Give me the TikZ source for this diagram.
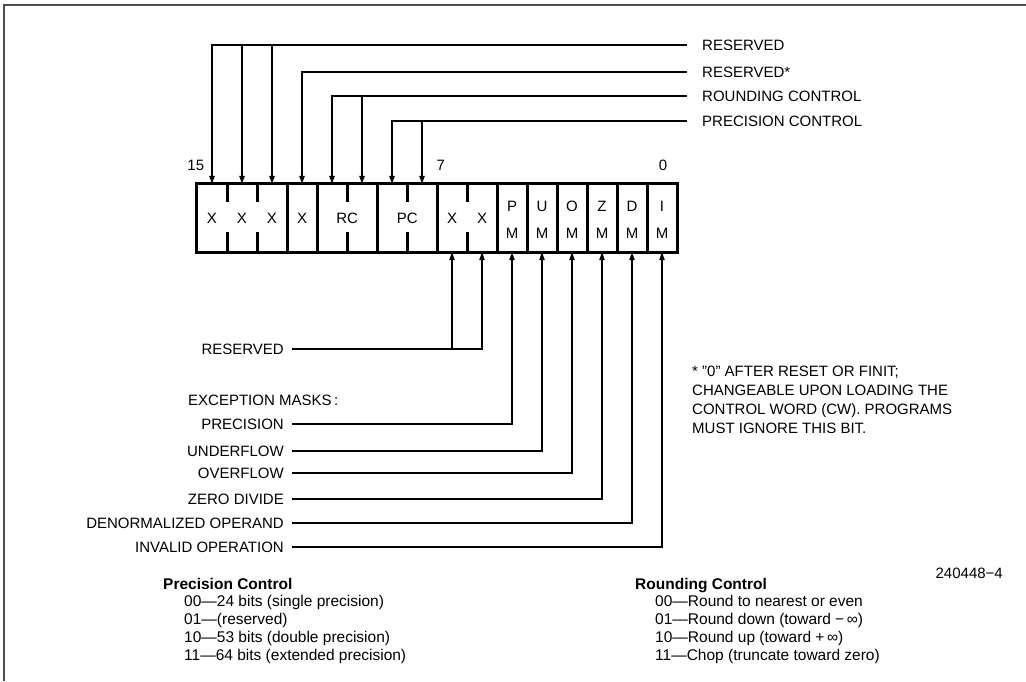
\documentclass[tikz,border=0pt]{standalone}
\usepackage{fontspec}
\setmainfont{Liberation Sans}
\usetikzlibrary{arrows.meta,calc}

\tikzset{
    lbl/.style={font=\fontsize{15}{17}\selectfont, inner sep=0pt, text height=10.7pt, text depth=0pt},
    bitcell/.style={minimum width=30pt, minimum height=68pt, inner sep=0pt},
    wire/.style={line width=1.1pt},
    tip/.style={wire, -{Triangle[length=8pt,width=5.5pt]}},
    reg/.style={line width=3pt},
    note/.style={font=\fontsize{15}{19}\selectfont, inner sep=0pt, align=left, anchor=north west},
    legend/.style={font=\fontsize{15.5}{17.7}\selectfont, inner sep=0pt, align=left, anchor=north west},
    legendhead/.style={lbl, font=\fontsize{15.5}{18}\selectfont\bfseries, anchor=west}
}

\begin{document}
\begin{tikzpicture}[x=1pt,y=-1pt]

        \useasboundingbox (0,0) rectangle (1026,681);
        \draw [line width=2pt, black!70] (4,681) -- (4,5) -- (1026,5);

        \foreach \b in {0,...,15}
            \node (bit\b) [bitcell] at ({212+(15-\b)*30},218) {};

        \draw [reg] (bit15.north west) rectangle (bit0.south east);
        \foreach \b in {13,12,10,8,6,5,4,3,2,1}
            \draw [reg] (bit\b.north east) -- (bit\b.south east);
        \foreach \b in {15,14,11,9,7} {
            \draw [reg] (bit\b.north east) -- ++(0,18);
            \draw [reg] (bit\b.south east) -- ++(0,-20);
        }

        \foreach \b in {15,14,13,12,7,6}
            \node [lbl] at (bit\b) {X};
        \node [lbl] at (bit11.east) {RC};
        \node [lbl] at (bit9.east) {PC};
        \foreach \b/\t in {5/P,4/U,3/O,2/Z,1/D,0/I} {
            \node [lbl] at ($(bit\b)+(0,-12)$) {\t};
            \node [lbl] at ($(bit\b)+(0,15)$) {M};
        }

        \node (n15) [lbl] at ($(bit15.north west)+(-1,-19)$) {15};
        \node (n7) [lbl] at ($(bit7.north west)+(4,-19)$) {7};
        \node (n0) [lbl] at ($(bit0.north)+(1,-19)$) {0};

        \node (rsvA) [lbl, anchor=west] at (702,45) {RESERVED};
        \node (rsvB) [lbl, anchor=west] at (702,72) {RESERVED*};
        \node (rctl) [lbl, anchor=west] at (702,96) {ROUNDING CONTROL};
        \node (pctl) [lbl, anchor=west] at (702,121) {PRECISION CONTROL};

        \draw [tip, shorten <=15pt] (rsvA.west) -| (bit15.north);
        \draw [tip] (bit14.north |- rsvA.west) -- (bit14.north);
        \draw [tip] (bit13.north |- rsvA.west) -- (bit13.north);
        \draw [tip, shorten <=15pt] (rsvB.west) -| (bit12.north);
        \draw [tip, shorten <=15pt] (rctl.west) -| (bit11.north);
        \draw [tip] (bit10.north |- rctl.west) -- (bit10.north);
        \draw [tip, shorten <=15pt] (pctl.west) -| (bit9.north);
        \draw [tip] (bit8.north |- pctl.west) -- (bit8.north);

        \node (rsvC) [lbl, anchor=east] at (284,349) {RESERVED};
        \node (xmask) [lbl, anchor=west] at (188,400) {EXCEPTION MASKS\,:};
        \node (pm) [lbl, anchor=east] at (284,424) {PRECISION};
        \node (um) [lbl, anchor=east] at (284,451) {UNDERFLOW};
        \node (om) [lbl, anchor=east] at (284,473) {OVERFLOW};
        \node (zm) [lbl, anchor=east] at (284,499) {ZERO DIVIDE};
        \node (dm) [lbl, anchor=east] at (284,523) {DENORMALIZED OPERAND};
        \node (im) [lbl, anchor=east] at (284,547) {INVALID OPERATION};

        \draw [tip, shorten <=8pt] (rsvC.east) -| (bit6.south);
        \draw [tip] (bit7.south |- rsvC.east) -- (bit7.south);
        \draw [tip, shorten <=8pt] (pm.east) -| (bit5.south);
        \draw [tip, shorten <=8pt] (um.east) -| (bit4.south);
        \draw [tip, shorten <=8pt] (om.east) -| (bit3.south);
        \draw [tip, shorten <=8pt] (zm.east) -| (bit2.south);
        \draw [tip, shorten <=8pt] (dm.east) -| (bit1.south);
        \draw [tip, shorten <=8pt] (im.east) -| (bit0.south);

        \node (star) [note] at (692,366) {* "0" AFTER RESET OR FINIT;\\CHANGEABLE UPON LOADING THE\\CONTROL WORD (CW). PROGRAMS\\MUST IGNORE THIS BIT.};

        \node (figno) [lbl, anchor=east] at (1003,573) {240448−4};

        \node (pchead) [legendhead] at (163,584) {Precision Control};
        \node (pclist) [legend] at (184,595.5) {00—24 bits (single precision)\\01—(reserved)\\10—53 bits (double precision)\\11—64 bits (extended precision)};
        \node (rchead) [legendhead] at (635,584) {Rounding Control};
        \node (rclist) [legend] at (655,595.5) {00—Round to nearest or even\\01—Round down (toward −\,∞)\\10—Round up (toward +\,∞)\\11—Chop (truncate toward zero)};

    \end{tikzpicture}
\end{document}
